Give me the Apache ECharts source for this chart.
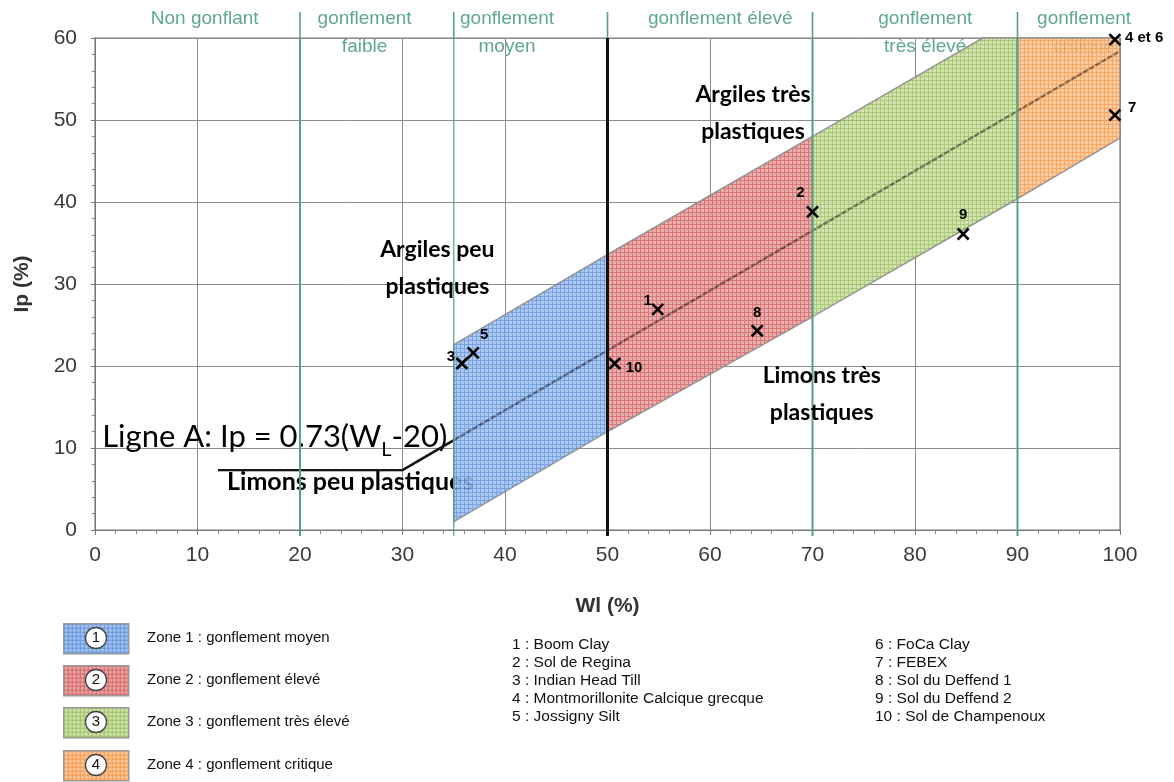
<!DOCTYPE html>
<html><head><meta charset="utf-8">
<script src="https://cdn.jsdelivr.net/npm/echarts@6/dist/echarts.min.js"></script>
<style>html,body{margin:0;padding:0;background:#fff}#c{width:1174px;height:782px}</style>
</head><body><div id="c"></div>
<script>
// ---------- DATA ----------
const ZONE_1 = [[35, 1.0], [35, 22.6], [50, 33.6], [50, 12.0]];
const ZONE_2 = [[50, 12.0], [50, 33.6], [70, 48.0], [70, 26.0]];
const ZONE_3 = [[70, 26.0], [70, 48.0], [86.6, 60], [90, 60], [90, 40.4]];
const ZONE_4 = [[90, 40.4], [90, 60], [100, 60], [100, 47.8]];
const ZONE_NAMES = ['Zone 1 : gonflement moyen', 'Zone 2 : gonflement élevé', 'Zone 3 : gonflement très élevé', 'Zone 4 : gonflement critique'];
const ZONE_NUMBERS = ['1', '2', '3', '4'];

const A_LINE = [[12, 7.3], [30, 7.3], [100, 58.4]];
const DIVIDERS = [20, 35, 50, 70, 90];

const HEADER_LABELS = ['Non gonflant', 'gonflement\nfaible', 'gonflement\nmoyen', 'gonflement élevé', 'gonflement\ntrès élevé', 'gonflement\ncritique'];
const HEADER_WL = [10.7, 26.3, 40.2, 61.0, 81.0, 96.5];

const POINT_IDS = ['1', '2', '3', '4 et 6', '5', '7', '8', '9', '10'];
const POINT_WL = [54.9, 70.0, 35.8, 99.5, 36.9, 99.5, 64.6, 84.7, 50.7];
const POINT_IP = [26.9, 38.8, 20.3, 59.8, 21.6, 50.6, 24.3, 36.1, 20.3];

const ANNOT_TEXT = ['Argiles très\nplastiques', 'Argiles peu\nplastiques', 'Limons très\nplastiques'];
const ANNOT_WL = [64.2, 33.4, 70.9];
const ANNOT_IP = [50.9, 32.0, 16.6];
const LOW_TEXT = ['Limons peu plastiques'];
const LOW_WL = [24.9];
const LOW_IP = [5.9];
const LINE_A_LABEL = 'Ligne A: Ip = 0.73(W{s|L}-20)';
const LINE_A_POS = [[0.7, 11.4]];

const SOIL_LEFT = ['1 : Boom Clay', '2 : Sol de Regina', '3 : Indian Head Till', '4 : Montmorillonite Calcique grecque', '5 : Jossigny Silt'];
const SOIL_RIGHT = ['6 : FoCa Clay', '7 : FEBEX', '8 : Sol du Deffend 1', '9 : Sol du Deffend 2', '10 : Sol de Champenoux'];

const X_NAME = 'Wl (%)';
const Y_NAME = 'Ip (%)';

// ---------- STYLE ----------
function pattern(bg, ln) {
  const c = document.createElement('canvas');
  c.width = 4; c.height = 4;
  const g = c.getContext('2d');
  g.fillStyle = bg; g.fillRect(0, 0, 4, 4);
  g.fillStyle = ln; g.fillRect(0, 0, 4, 1); g.fillRect(0, 0, 1, 4);
  return { image: c, repeat: 'repeat' };
}
const ZONES = [ZONE_1, ZONE_2, ZONE_3, ZONE_4];
const ZONE_FILLS = [
  pattern('#a3c1ee', '#6597df'),
  pattern('#e8a3a3', '#d56666'),
  pattern('#cde0a3', '#9fc26b'),
  pattern('#fdc593', '#f69c52')
];
const GREEN = '#56a084';
const LABEL_OFF = [[-10, -9, 'center'], [-12, -19, 'center'], [-11, -7, 'center'], [10, -2, 'left'], [11, -18, 'center'], [13, -7, 'left'], [0, -18, 'center'], [0, -19, 'center'], [11, 4, 'left']];

const chart = echarts.init(document.getElementById('c'), null, { renderer: 'canvas' });

const legendGraphics = [];
const boxTops = [623, 665, 707, 750];
ZONE_NAMES.forEach((n, i) => {
  legendGraphics.push({ type: 'rect', left: 63, top: boxTops[i], shape: { width: 65, height: 30 }, style: { fill: ZONE_FILLS[i], stroke: '#999', lineWidth: 1.5 } });
  legendGraphics.push({ type: 'circle', x: 96, y: boxTops[i] + 15, shape: { cx: 0, cy: 0, r: 10.5 }, style: { fill: '#fff', stroke: '#444', lineWidth: 1.3 } });
  legendGraphics.push({ type: 'text', x: 96, y: boxTops[i] + 15, style: { text: ZONE_NUMBERS[i], align: 'center', verticalAlign: 'middle', font: '15px "Liberation Sans"', fill: '#111' } });
  legendGraphics.push({ type: 'text', x: 147, y: boxTops[i] + 15, style: { text: n, align: 'left', verticalAlign: 'middle', font: '15px "Liberation Sans"', fill: '#111' } });
});
SOIL_LEFT.forEach((t, i) => legendGraphics.push({ type: 'text', x: 512, y: 645 + i * 18, style: { text: t, verticalAlign: 'middle', font: '15.5px "Liberation Sans"', fill: '#111' } }));
SOIL_RIGHT.forEach((t, i) => legendGraphics.push({ type: 'text', x: 875, y: 645 + i * 18, style: { text: t, verticalAlign: 'middle', font: '15.5px "Liberation Sans"', fill: '#111' } }));

const option = {
  animation: false,
  backgroundColor: '#fff',
  grid: { left: 95, right: 54, top: 38, bottom: 252, show: true, borderColor: '#7a7a7a', borderWidth: 1.2 },
  xAxis: {
    type: 'value', min: 0, max: 100, interval: 10,
    name: X_NAME, nameLocation: 'middle', nameGap: 66,
    nameTextStyle: { fontFamily: 'Liberation Sans', fontWeight: 'bold', fontSize: 21, color: '#333' },
    axisLine: { lineStyle: { color: '#777' } },
    axisTick: { length: 5, lineStyle: { color: '#777' } },
    minorTick: { show: true, splitNumber: 5, length: 4, lineStyle: { color: '#888' } },
    axisLabel: { fontFamily: 'Liberation Sans', fontSize: 21, color: '#3a3a3a', margin: 15 },
    splitLine: { lineStyle: { color: '#8c8c8c', width: 1 } }
  },
  yAxis: {
    type: 'value', min: 0, max: 60, interval: 10,
    name: Y_NAME, nameLocation: 'middle', nameGap: 62, nameRotate: 90,
    nameTextStyle: { fontFamily: 'Liberation Sans', fontWeight: 'bold', fontSize: 21, color: '#333' },
    axisLine: { show: true, lineStyle: { color: '#777' } },
    axisTick: { show: true, length: 4, lineStyle: { color: '#777' } },
    minorTick: { show: true, splitNumber: 5, length: 3, lineStyle: { color: '#888' } },
    axisLabel: { fontFamily: 'Liberation Sans', fontSize: 21, color: '#3a3a3a', margin: 18 },
    splitLine: { lineStyle: { color: '#8c8c8c', width: 1 } }
  },
  graphic: legendGraphics,
  series: [
    { // header labels
      type: 'custom', z: 1, silent: true,
      data: HEADER_WL.map((x, i) => [x, 60, i]),
      renderItem(params, api) {
        const p = api.coord([api.value(0), api.value(1)]);
        return { type: 'text', style: { text: HEADER_LABELS[params.dataIndex], x: p[0], y: p[1] - 33, align: 'center', verticalAlign: 'top', lineHeight: 28, font: '19px "Liberation Sans"', fill: '#5fa88c' } };
      }
    },
    { // A line
      type: 'line', z: 1, silent: true, symbol: 'none',
      data: A_LINE,
      lineStyle: { color: '#111', width: 2.4 }
    },
    { // texts below zones
      type: 'custom', z: 1, silent: true,
      data: LOW_WL.map((x, i) => [x, LOW_IP[i]]),
      renderItem(params, api) {
        const p = api.coord([api.value(0), api.value(1)]);
        return { type: 'text', style: { text: LOW_TEXT[params.dataIndex], x: p[0], y: p[1], align: 'center', verticalAlign: 'middle', font: 'bold 25px Lato', fill: '#000' } };
      }
    },
    { // Ligne A label
      type: 'custom', z: 1, silent: true,
      data: LINE_A_POS,
      renderItem(params, api) {
        const p = api.coord([api.value(0), api.value(1)]);
        return { type: 'text', style: { text: LINE_A_LABEL, x: p[0], y: p[1], align: 'left', verticalAlign: 'middle', font: '31px Lato', fill: '#000',
          rich: { s: { fontSize: 20, fontFamily: 'Lato', verticalAlign: 'bottom', lineHeight: 20 } }, lineHeight: 46 } };
      }
    },
    { // zones
      type: 'custom', z: 3, silent: true,
      data: ZONES.map((z, i) => [z[0][0], z[0][1], i]),
      renderItem(params, api) {
        const i = params.dataIndex;
        const pts = ZONES[i].map(v => api.coord(v));
        return { type: 'polygon', shape: { points: pts }, style: { fill: ZONE_FILLS[i], stroke: '#8a8a8a', lineWidth: 1.5, opacity: 0.88 } };
      }
    },
    { // A line seen through zones
      type: 'line', z: 3.5, silent: true, symbol: 'none',
      data: A_LINE,
      lineStyle: { color: '#222', width: 2.2, opacity: 0.45, type: [5, 2] }
    },
    { // dividers
      type: 'custom', z: 4, silent: true,
      data: DIVIDERS.map(x => [x, 0]),
      renderItem(params, api) {
        const x = api.value(0);
        const p0 = api.coord([x, 0]), p1 = api.coord([x, 60]);
        const main = x === 50;
        return { type: 'group', children: [
          { type: 'line', shape: { x1: p0[0], y1: p0[1] + 6, x2: p1[0], y2: p1[1] }, style: { stroke: main ? '#111' : GREEN, lineWidth: main ? 3 : (x === 35 ? 1.2 : 2) } },
          { type: 'line', shape: { x1: p1[0], y1: p1[1], x2: p1[0], y2: p1[1] - 26 }, style: { stroke: GREEN, lineWidth: 1.6 } }
        ] };
      }
    },
    { // annotation texts over zones
      type: 'custom', z: 5, silent: true,
      data: ANNOT_WL.map((x, i) => [x, ANNOT_IP[i]]),
      renderItem(params, api) {
        const p = api.coord([api.value(0), api.value(1)]);
        return { type: 'text', style: { text: ANNOT_TEXT[params.dataIndex], x: p[0], y: p[1], align: 'center', verticalAlign: 'middle', lineHeight: 37, font: 'bold 23px Lato', fill: '#000' } };
      }
    },
    { // points
      type: 'custom', z: 6, silent: true,
      data: POINT_WL.map((x, i) => [x, POINT_IP[i]]),
      renderItem(params, api) {
        const i = params.dataIndex;
        const p = api.coord([api.value(0), api.value(1)]);
        const s = 5.5, o = LABEL_OFF[i];
        return { type: 'group', children: [
          { type: 'line', shape: { x1: p[0] - s, y1: p[1] - s, x2: p[0] + s, y2: p[1] + s }, style: { stroke: '#000', lineWidth: 2.6 } },
          { type: 'line', shape: { x1: p[0] - s, y1: p[1] + s, x2: p[0] + s, y2: p[1] - s }, style: { stroke: '#000', lineWidth: 2.6 } },
          { type: 'text', style: { text: POINT_IDS[i], x: p[0] + o[0], y: p[1] + o[1], align: o[2], verticalAlign: 'middle', font: 'bold 15px "Liberation Sans"', fill: '#000' } }
        ] };
      }
    }
  ]
};
chart.setOption(option);
</script>
</body></html>
